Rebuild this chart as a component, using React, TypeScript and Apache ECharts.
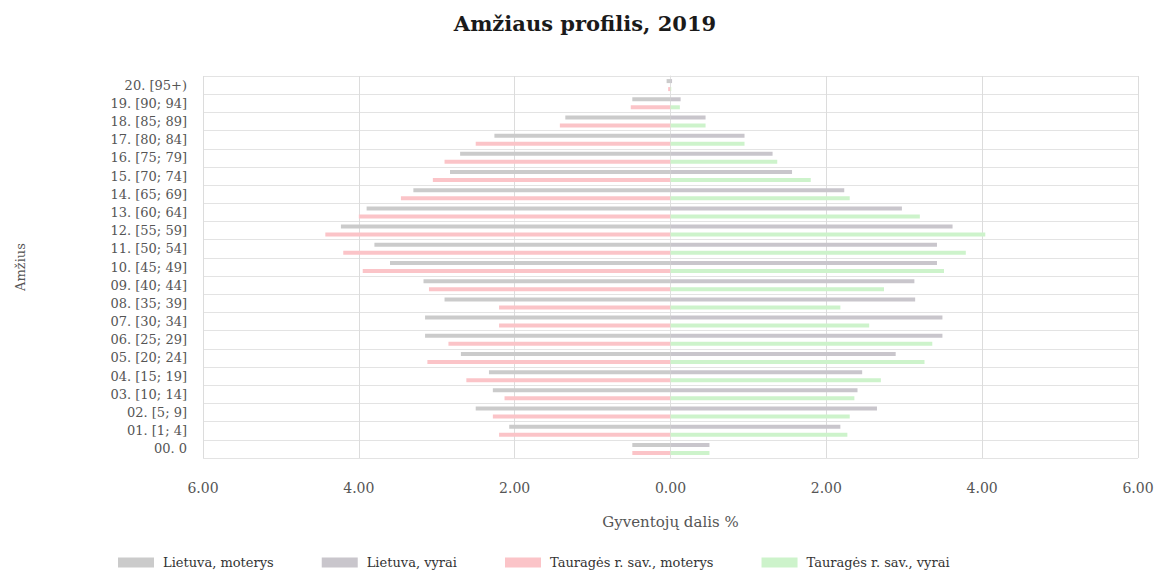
import React, { useEffect, useRef } from "react";
import * as echarts from "echarts";

const categories = [
  "00. 0", "01. [1; 4]", "02. [5; 9]", "03. [10; 14]", "04. [15; 19]",
  "05. [20; 24]", "06. [25; 29]", "07. [30; 34]", "08. [35; 39]", "09. [40; 44]",
  "10. [45; 49]", "11. [50; 54]", "12. [55; 59]", "13. [60; 64]", "14. [65; 69]",
  "15. [70; 74]", "16. [75; 79]", "17. [80; 84]", "18. [85; 89]", "19. [90; 94]",
  "20. [95+)",
];

// values in % of population (women shown to the left)
const ltWomen = [0.49, 2.07, 2.5, 2.28, 2.33, 2.69, 3.15, 3.15, 2.9, 3.17, 3.6, 3.8, 4.23, 3.9, 3.3, 2.83, 2.7, 2.26, 1.35, 0.49, 0.05];
const ltMen = [0.5, 2.18, 2.65, 2.4, 2.46, 2.89, 3.49, 3.49, 3.14, 3.13, 3.42, 3.42, 3.62, 2.97, 2.23, 1.56, 1.31, 0.95, 0.45, 0.13, 0.02];
const tgWomen = [0.49, 2.2, 2.28, 2.13, 2.62, 3.12, 2.85, 2.2, 2.2, 3.1, 3.95, 4.2, 4.43, 4.0, 3.46, 3.05, 2.9, 2.5, 1.42, 0.51, 0.03];
const tgMen = [0.5, 2.27, 2.3, 2.36, 2.7, 3.26, 3.36, 2.55, 2.18, 2.74, 3.51, 3.79, 4.04, 3.2, 2.3, 1.8, 1.37, 0.95, 0.45, 0.12, 0.01];

const seriesNames = [
  "Lietuva, moterys",
  "Lietuva, vyrai",
  "Tauragės r. sav., moterys",
  "Tauragės r. sav., vyrai",
];

const FONT = "DejaVu Serif";

export default function App() {
  const ref = useRef<HTMLDivElement>(null);
  useEffect(() => {
    if (!ref.current) return;
    const chart = echarts.init(ref.current, undefined, { renderer: "svg" });
    const barCommon = { type: "bar" as const, barWidth: 4, barGap: "100%" };
    chart.setOption({
      animation: false,
      textStyle: { fontFamily: FONT },
      title: {
        text: "Amžiaus profilis, 2019",
        left: "center",
        top: 0,
        textStyle: { fontFamily: FONT, fontSize: 21, fontWeight: "bold", color: "#1a1a1a" },
      },
      legend: {
        bottom: -4,
        left: 105,
        itemWidth: 36,
        itemHeight: 10,
        itemGap: 48,
        icon: "rect",
        data: seriesNames,
        textStyle: { fontFamily: FONT, fontSize: 13, color: "#333", padding: [0, 0, 0, 4] },
      },
      grid: { left: 195, right: 24, top: 68, bottom: 112, outerBoundsMode: "none" },
      xAxis: {
        type: "value",
        min: -6,
        max: 6,
        interval: 2,
        name: "Gyventojų dalis %",
        nameLocation: "middle",
        nameGap: 56,
        nameTextStyle: { fontFamily: FONT, fontSize: 15, color: "#555" },
        axisLine: { show: false },
        axisTick: { show: false },
        axisLabel: {
          margin: 23,
          fontFamily: FONT,
          fontSize: 14,
          color: "#555",
          formatter: (v: number) => Math.abs(v).toFixed(2),
        },
        splitLine: { show: true, lineStyle: { color: "#dcdcdc", width: 1 } },
      },
      yAxis: {
        type: "category",
        data: categories,
        name: "Amžius",
        nameLocation: "middle",
        nameGap: 176,
        nameRotate: 90,
        nameTextStyle: { fontFamily: FONT, fontSize: 13, color: "#555" },
        axisLine: { show: true, lineStyle: { color: "#e0e0e0" } },
        axisTick: { show: false },
        axisLabel: { interval: 0, fontFamily: FONT, fontSize: 13, color: "#555", margin: 16 },
        splitLine: { show: true, interval: 0, lineStyle: { color: "#e3e3e3", width: 1 } },
      },
      series: [
        {
          ...barCommon,
          name: seriesNames[0],
          stack: "lt",
          data: ltWomen.map((v) => -v),
          itemStyle: { color: "#cbcbcb" },
        },
        {
          ...barCommon,
          name: seriesNames[1],
          stack: "lt",
          data: ltMen,
          itemStyle: { color: "#c9c6cc" },
        },
        {
          ...barCommon,
          name: seriesNames[2],
          stack: "tg",
          data: tgWomen.map((v) => -v),
          itemStyle: { color: "#fbc4c8" },
        },
        {
          ...barCommon,
          name: seriesNames[3],
          stack: "tg",
          data: tgMen,
          itemStyle: { color: "#cdf3cb" },
        },
      ],
    });
    return () => chart.dispose();
  }, []);
  return <div ref={ref} style={{ width: 1154, height: 562 }} />;
}
